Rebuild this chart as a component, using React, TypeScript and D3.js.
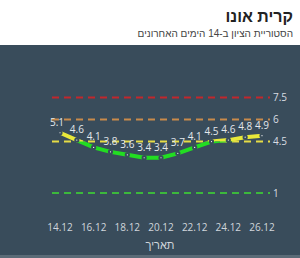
import React from "react";
import * as d3 from "d3";

const dates = ["14.12","15.12","16.12","17.12","18.12","19.12","20.12","21.12","22.12","23.12","24.12","25.12","26.12"];
const values = [5.1, 4.6, 4.1, 3.8, 3.6, 3.4, 3.4, 3.7, 4.1, 4.5, 4.6, 4.8, 4.9];
const tickLabels = ["14.12","16.12","18.12","20.12","22.12","24.12","26.12"];
const thresholds = [7.5, 6, 4.5, 1];
const thresholdColors = ["#c1272d", "#c98a4b", "#e6dc46", "#3cb83c"];
const title = "קרית אונו";
const subtitle = "הסטוריית הציון ב-14 הימים האחרונים";
const axisTitle = "תאריך";

const W = 300, H = 258;
const BG = "#394c5b";
const FONT = "'Open Sans', 'Liberation Sans', sans-serif";

export default function App() {
  const x = d3.scaleLinear().domain([0, dates.length - 1]).range([60, 262]);
  const y = d3.scaleLinear().domain([1, 7.5]).range([193, 97.5]);
  const line = d3.line<number>().x((_, i) => x(i)).y(d => y(d));
  const path = line(values) || "";
  const yT = y(4.5);
  return (
    <svg width={W} height={H} style={{ position: "absolute", left: 0, top: 0 }} fontFamily={FONT}>
      <defs>
        <clipPath id="above"><rect x={0} y={0} width={W} height={yT} /></clipPath>
        <clipPath id="below"><rect x={0} y={yT} width={W} height={H - yT} /></clipPath>
      </defs>
      <rect x={0} y={0} width={W} height={H} fill="#ffffff" />
      <text x={293} y={22} textAnchor="end" fontSize={16} fontWeight="bold" fill="#222" fontFamily="'Liberation Sans', sans-serif">{title}</text>
      <text x={293} y={37} textAnchor="end" fontSize={10} fill="#444" fontFamily="'Liberation Sans', sans-serif">{subtitle}</text>
      <rect x={0} y={45} width={W} height={210} fill={BG} />
      <rect x={0} y={255} width={W} height={3} fill="#5b6b77" />
      {thresholds.map((t, i) => (
        <g key={t}>
          <line x1={52} x2={270} y1={y(t)} y2={y(t)} stroke={thresholdColors[i]} strokeWidth={2} strokeDasharray="7,5" />
          <text x={273} y={y(t) + 3.5} fontSize={10} fill="#d8dde2">{t}</text>
        </g>
      ))}
      <path d={path} fill="none" stroke="#e8e83a" strokeWidth={4} clipPath="url(#above)" />
      <path d={path} fill="none" stroke="#22dd22" strokeWidth={4} clipPath="url(#below)" />
      {values.map((v, i) => (
        <circle key={i} cx={x(i)} cy={y(v)} r={1.6} fill="#ffffff" stroke={BG} strokeWidth={2} />
      ))}
      {values.map((v, i) => (
        <text key={"l" + i} x={x(i) - (i === 0 ? 3 : 0)} y={y(v) - 7} textAnchor="middle" fontSize={10} fill="#e4e8ec">{v}</text>
      ))}
      {tickLabels.map(t => {
        const i = dates.indexOf(t);
        return <text key={t} x={x(i)} y={231} textAnchor="middle" fontSize={10} fill="#d0d6dc">{t}</text>;
      })}
      <text x={160} y={249} textAnchor="middle" fontSize={11} fill="#d0d6dc" fontFamily="'Liberation Sans', sans-serif">{axisTitle}</text>
    </svg>
  );
}
